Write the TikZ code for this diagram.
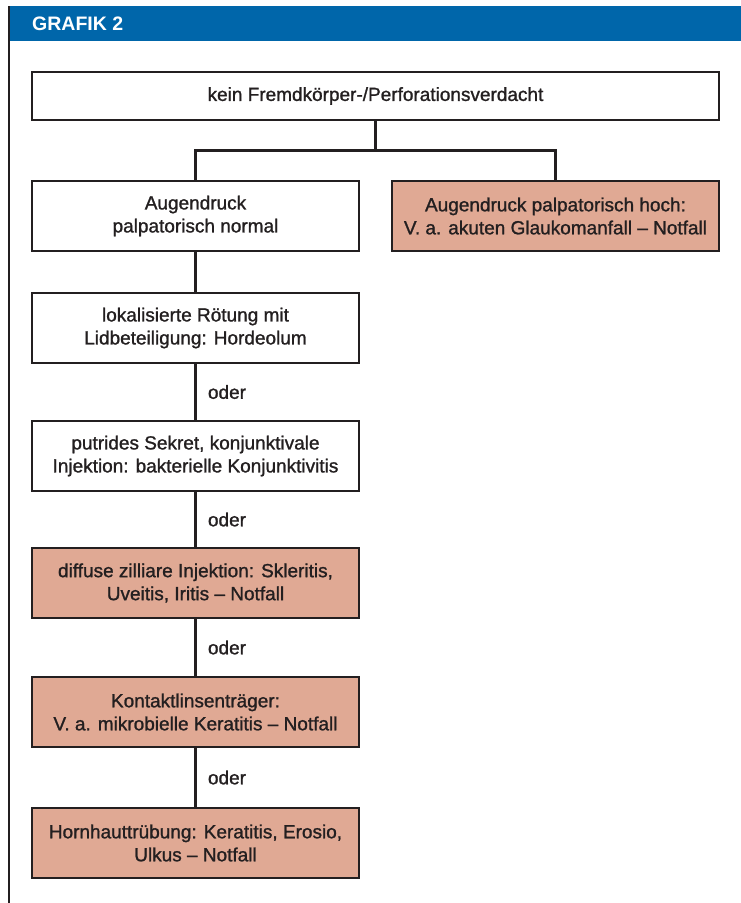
\documentclass[tikz,border=0pt]{standalone}
\usepackage{fontspec}
\setmainfont[FakeBold=1.2]{Liberation Sans}
\newfontfamily\headfont{Liberation Sans}
\usepackage{tikz}
\definecolor{headblue}{HTML}{0066AA}
\definecolor{alarmpink}{HTML}{E0A994}
\definecolor{inkblack}{HTML}{231F20}
\tikzstyle{plainbox}=[draw=inkblack,line width=2pt,fill=white,text=inkblack,
  minimum width=327pt,minimum height=70pt,align=center,inner sep=0pt,font=\fontsize{19}{23}\selectfont]
\tikzstyle{alarmbox}=[plainbox,fill=alarmpink]
\tikzstyle{link}=[draw=inkblack,line width=3pt]
\tikzstyle{orlabel}=[right,text=inkblack,inner sep=0pt,xshift=11pt,font=\fontsize{19}{23}\selectfont]

\begin{document}
\begin{tikzpicture}[x=1pt,y=-1pt]
    \useasboundingbox (0,0) rectangle (741,903);
    % frame and heading
    \fill[headblue] (9,6) rectangle (741,40.5);
    \node[anchor=west,text=white,font=\headfont\fontsize{19.5}{22}\bfseries\selectfont,inner sep=0pt] (title) at (32,23.5) {GRAFIK 2};
    \draw[inkblack,line width=2pt] (9,6) -- (9,903);

    \node[plainbox,minimum width=687pt,minimum height=48pt] (start) at (375.5,96) {kein Fremdkörper-/Perforationsverdacht};
    \node[alarmbox] (high) at (555.5,216) {Augendruck palpatorisch hoch:\\V. a. akuten Glaukomanfall -- Notfall};

    \foreach \name/\ypos/\kind/\txt in
    {normal/216/plainbox/{Augendruck\\palpatorisch normal},
     hordeolum/328/plainbox/{lokalisierte Rötung mit\\Lidbeteiligung: Hordeolum},
     conj/456/plainbox/{putrides Sekret, konjunktivale\\Injektion: bakterielle Konjunktivitis},
     scler/583/alarmbox/{diffuse zilliare Injektion: Skleritis,\\Uveitis, Iritis -- Notfall},
     lens/712/alarmbox/{Kontaktlinsenträger:\\V. a. mikrobielle Keratitis -- Notfall},
     cornea/843/alarmbox/{Hornhauttrübung: Keratitis, Erosio,\\Ulkus -- Notfall}}
        \node[\kind] (\name) at (195.5,\ypos) {\txt};

    % branching
    \coordinate (split) at (375.5,150);
    \path[link] (start) -- (split);
    \path[link] (split) -| (normal);
    \path[link] (split) -| (high);
    \path[link] (normal) -- (hordeolum);

    \foreach \source/\dest in {hordeolum/conj,conj/scler,scler/lens,lens/cornea}
        \path[link] (\source) -- node[orlabel] {oder} (\dest);
\end{tikzpicture}
\end{document}
